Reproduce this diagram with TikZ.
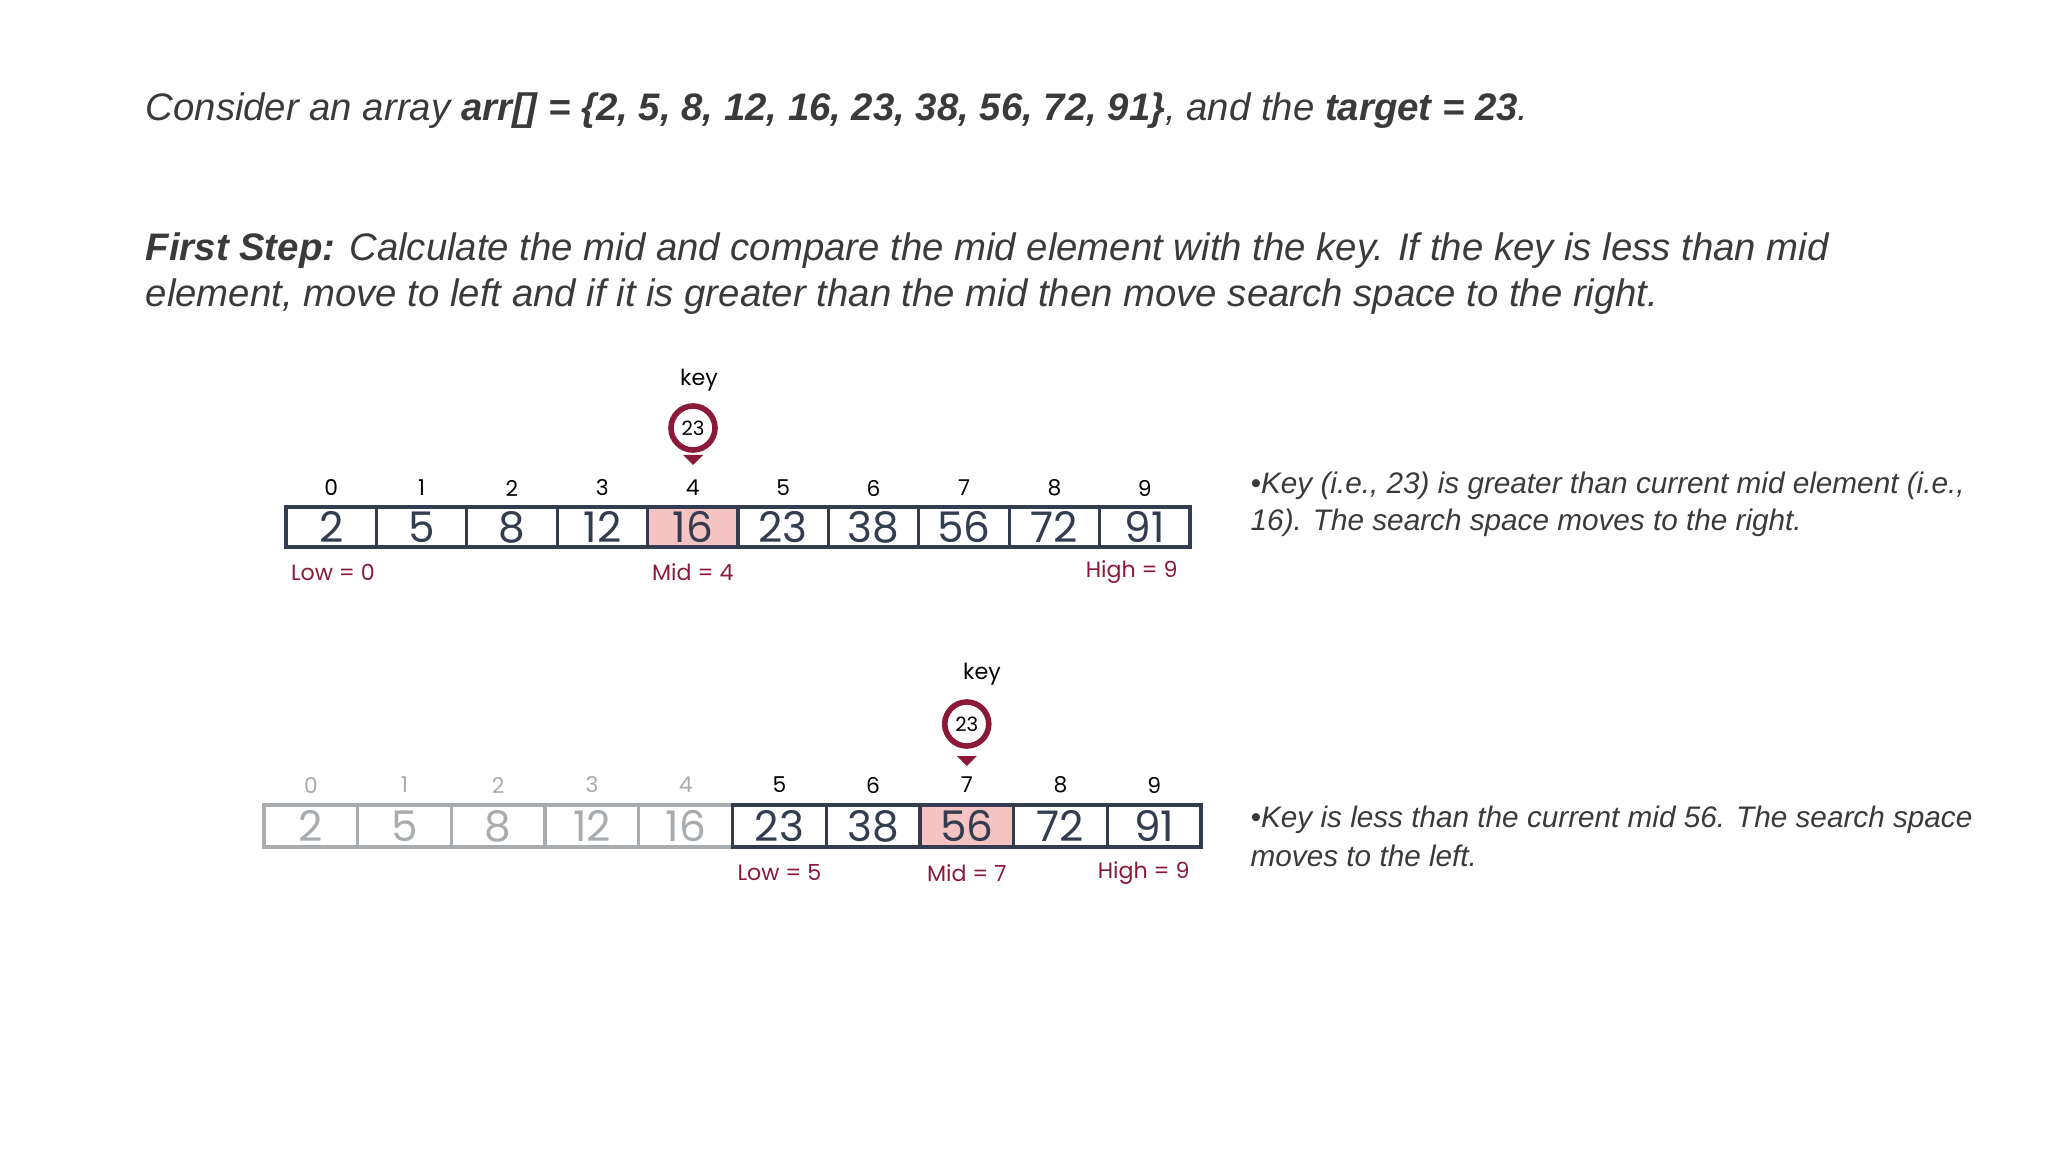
\documentclass[tikz,border=0pt]{standalone}
\usepackage{fontspec}
\setmainfont{Liberation Sans}
\newfontfamily\pop{Poppins}
\definecolor{ink}{HTML}{333D4F}
\definecolor{txt}{HTML}{3A3A3A}
\definecolor{maroon}{HTML}{8B1A3A}
\definecolor{pinkc}{HTML}{F6C3C3}
\definecolor{grayc}{HTML}{A8ACAF}
\begin{document}
\begin{tikzpicture}[x=0.01cm,y=-0.01cm,
  cellbox/.style={draw=ink,line width=0.95pt,minimum width=90.4*0.01cm,minimum height=40*0.01cm,inner sep=0,font=\pop\fontsize{12}{13}\selectfont,text=ink},
  cellbox2/.style={cellbox,minimum width=93.7*0.01cm,minimum height=42*0.01cm},
  dimbox/.style={cellbox2,draw=grayc,text=grayc},
  idx/.style={font=\pop\fontsize{6.2}{7}\selectfont,text=black},
  dimidx/.style={idx,text=grayc},
  lab/.style={font=\pop\fontsize{6.3}{7}\selectfont,text=maroon},
  para/.style={anchor=west,inner sep=0,font=\fontsize{10.9}{13.5}\selectfont\itshape,text=txt},
  side/.style={anchor=west,inner sep=0,font=\fontsize{8.45}{10.5}\selectfont\itshape,text=txt},
  pin/.style={circle,draw=maroon,line width=1.6pt,fill=white,minimum size=44*0.01cm,inner sep=0,font=\pop\fontsize{5.6}{7}\selectfont}]
\useasboundingbox (0,0) rectangle (2048,1152);
\node[para] (t1) at (145,111) {Consider an array \textbf{arr[] = \{2, 5, 8, 12, 16, 23, 38, 56, 72, 91\}}, and the \textbf{target = 23}.};
\node[para] (t2) at (145,251) {\textbf{First Step:} Calculate the mid and compare the mid element with the key. If the key is less than mid};
\node[para] (t3) at (145,297) {element, move to left and if it is greater than the mid then move search space to the right.};
% array 1
\foreach \v [count=\i from 0] in {2,5,8,12,16,23,38,56,72,91}{
  \node[cellbox,fill=white] (a\i) at ({286+45.2+90.4*\i},527) {\v};
  \node[idx] (ai\i) at ({286+45.2+90.4*\i},488) {\i};
}
\node[cellbox,fill=pinkc] (a4) at ({286+45.2+90.4*4},527) {16};
\node[lab] (l1) at (333,572) {Low = 0};
\node[lab] (m1) at (a4.center |- 0,572) {Mid = 4};
\node[lab,anchor=east] (h1) at (1190,572) {High = 9};
\node[font=\pop\fontsize{6.3}{7}\selectfont] (k1) at (699,380) {key};
\fill[maroon] (683,455) -- (703,455) -- (693,465) -- cycle;
\node[pin] (c1) at (693,428) {23};
\node[side] (s1) at (1250,486) {•Key (i.e., 23) is greater than current mid element (i.e.,};
\node[side] (s2) at (1250,523) {16). The search space moves to the right.};
% array 2
\foreach \v [count=\i from 0] in {2,5,8,12,16}{
  \node[dimbox,fill=white] (b\i) at ({264+46.85+93.7*\i},826) {\v};
  \node[dimidx] (bi\i) at ({264+46.85+93.7*\i},785) {\i};
}
\foreach \v [count=\i from 5] in {23,38,56,72,91}{
  \node[cellbox2,fill=white] (b\i) at ({264+46.85+93.7*\i},826) {\v};
  \node[idx] (bi\i) at ({264+46.85+93.7*\i},785) {\i};
}
\node[cellbox2,fill=pinkc] (b7) at ({264+46.85+93.7*7},826) {56};
\node[lab] (l2) at (b5.center |- 0,873) {Low = 5};
\node[lab] (m2) at (b7.center |- 0,873) {Mid = 7};
\node[lab,anchor=east] (h2) at (1202,873) {High = 9};
\node[font=\pop\fontsize{6.3}{7}\selectfont] (k2) at (982,674) {key};
\fill[maroon] (b7.center |- 0,766) ++(-10,-10) -- ++(20,0) -- ++(-10,10) -- cycle;
\node[pin] (c2) at (b7.center |- 0,724) {23};
\node[side] (s3) at (1250,820) {•Key is less than the current mid 56. The search space};
\node[side] (s4) at (1250,856) {moves to the left.};
\end{tikzpicture}
\end{document}
